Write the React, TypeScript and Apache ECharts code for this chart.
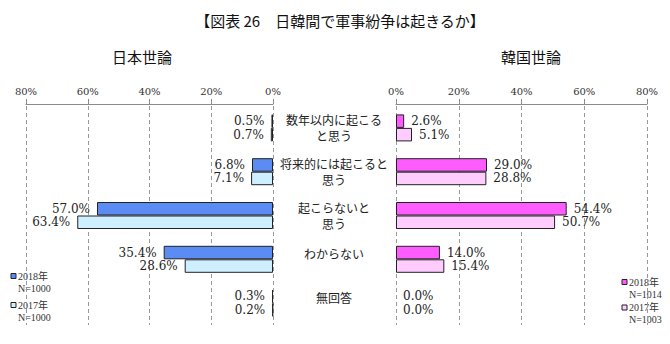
import React, { useEffect, useRef } from 'react';
import * as echarts from 'echarts';

const categories = ['数年以内に起こる\nと思う', '将来的には起こると\n思う', '起こらないと\n思う', 'わからない', '無回答'];
const japan2018 = [0.5, 6.8, 57.0, 35.4, 0.3];
const japan2017 = [0.7, 7.1, 63.4, 28.6, 0.2];
const korea2018 = [2.6, 29.0, 54.4, 14.0, 0.0];
const korea2017 = [5.1, 28.8, 50.7, 15.4, 0.0];
const japanLegend = ['2018年', 'N=1000', '2017年', 'N=1000'];
const koreaLegend = ['2018年', 'N=1014', '2017年', 'N=1003'];
const titleText = '【図表 26　日韓間で軍事紛争は起きるか】';
const panelTitles = ['日本世論', '韓国世論'];
const axisMax = 80;
const axisStep = 20;

const C_JP18 = '#5B8CF4';
const C_JP17 = '#CDEFFF';
const C_KR18 = '#FF5CFF';
const C_KR17 = '#FFCCFF';

const SERIF = "'DejaVu Serif', 'Noto Sans CJK JP', serif";
const CJK = "'Noto Sans CJK JP', sans-serif";

function toData(arr: number[]) {
  return arr.map((v) => (v === 0 ? { value: v, itemStyle: { borderWidth: 0 } } : v));
}

function legendBlock(x: number, y1: number, y2: number, labels: string[], c1: string, c2: string) {
  const ts = { fontFamily: "'Liberation Serif', 'Noto Sans CJK JP', serif", fontSize: 10, fill: '#333' };
  return [
    { type: 'rect', shape: { x, y: y1 - 2.5, width: 5, height: 5 }, style: { fill: c1, stroke: '#222', lineWidth: 1 } },
    { type: 'text', x: x + 7, y: y1, style: { ...ts, text: labels[0], verticalAlign: 'middle' } },
    { type: 'text', x: x + 7, y: y1 + 12, style: { ...ts, text: labels[1], verticalAlign: 'middle' } },
    { type: 'rect', shape: { x, y: y2 - 2.5, width: 5, height: 5 }, style: { fill: c2, stroke: '#222', lineWidth: 1 } },
    { type: 'text', x: x + 7, y: y2, style: { ...ts, text: labels[2], verticalAlign: 'middle' } },
    { type: 'text', x: x + 7, y: y2 + 12, style: { ...ts, text: labels[3], verticalAlign: 'middle' } },
  ];
}

export default function App() {
  const ref = useRef<HTMLDivElement>(null);
  useEffect(() => {
    document.body.style.margin = '0';
    const chart = echarts.init(ref.current!, null, { renderer: 'svg' });
    const xAxisCommon = {
      type: 'value',
      position: 'top',
      min: 0,
      max: axisMax,
      interval: axisStep,
      offset: 2,
      axisLine: { show: true, lineStyle: { color: '#8a8a8a', width: 1 } },
      axisTick: { show: true, length: 5, lineStyle: { color: '#8a8a8a' } },
      axisLabel: { formatter: '{value}%', fontFamily: SERIF, fontSize: 10, color: '#333', margin: 8 },
      splitLine: { show: true, lineStyle: { color: '#999', type: [4, 3], width: 1 } },
    };
    const labelCommon = {
      show: true,
      fontFamily: SERIF,
      fontSize: 12,
      color: '#222',
      distance: 7,
      formatter: (p: any) => Number(p.value).toFixed(1) + '%',
    };
    const barCommon = { type: 'bar', barWidth: 13.5, barGap: '0%', itemStyle: { borderColor: '#222', borderWidth: 1 } };
    chart.setOption({
      animation: false,
      backgroundColor: '#fff',
      title: [
        { text: titleText, left: 335, top: 8, textAlign: 'center', textStyle: { fontFamily: CJK, fontSize: 15, fontWeight: 'normal', color: '#111' } },
        { text: panelTitles[0], left: 137, top: 44, textAlign: 'center', textStyle: { fontFamily: CJK, fontSize: 15, fontWeight: 'normal', color: '#111' } },
        { text: panelTitles[1], left: 526, top: 44, textAlign: 'center', textStyle: { fontFamily: CJK, fontSize: 15, fontWeight: 'normal', color: '#111' } },
      ],
      grid: [
        { left: 26, width: 247, top: 106, height: 219 },
        { left: 396, width: 251, top: 106, height: 219 },
      ],
      xAxis: [
        { ...xAxisCommon, gridIndex: 0, inverse: true },
        { ...xAxisCommon, gridIndex: 1 },
      ],
      yAxis: [
        {
          type: 'category',
          gridIndex: 0,
          data: categories,
          inverse: true,
          position: 'right',
          axisLine: { show: false },
          axisTick: { show: false },
          splitLine: { show: false },
          axisLabel: {
            margin: 61,
            align: 'center',
            fontFamily: CJK,
            fontSize: 12,
            lineHeight: 16,
            color: '#222',
            formatter: (v: string) => (v.includes('\n') ? v : `{s|${v}}`),
            rich: { s: { fontFamily: CJK, fontSize: 12, color: '#222', padding: [0, 0, 12, 0] } },
          },
        },
        {
          type: 'category',
          gridIndex: 1,
          data: categories,
          inverse: true,
          axisLine: { show: false },
          axisTick: { show: false },
          axisLabel: { show: false },
          splitLine: { show: false },
        },
      ],
      series: [
        { ...barCommon, name: 'jp2018', xAxisIndex: 0, yAxisIndex: 0, data: toData(japan2018), itemStyle: { ...barCommon.itemStyle, color: C_JP18 }, label: { ...labelCommon, position: 'left' } },
        { ...barCommon, name: 'jp2017', xAxisIndex: 0, yAxisIndex: 0, data: toData(japan2017), itemStyle: { ...barCommon.itemStyle, color: C_JP17 }, label: { ...labelCommon, position: 'left' } },
        { ...barCommon, name: 'kr2018', xAxisIndex: 1, yAxisIndex: 1, data: toData(korea2018), itemStyle: { ...barCommon.itemStyle, color: C_KR18 }, label: { ...labelCommon, position: 'right' } },
        { ...barCommon, name: 'kr2017', xAxisIndex: 1, yAxisIndex: 1, data: toData(korea2017), itemStyle: { ...barCommon.itemStyle, color: C_KR17 }, label: { ...labelCommon, position: 'right' } },
      ],
      graphic: [
        ...legendBlock(11, 276, 305, japanLegend, C_JP18, C_JP17),
        ...legendBlock(622, 282, 307.5, koreaLegend, C_KR18, C_KR17),
      ],
    });
    return () => chart.dispose();
  }, []);
  return <div ref={ref} style={{ width: 670, height: 344 }} />;
}
